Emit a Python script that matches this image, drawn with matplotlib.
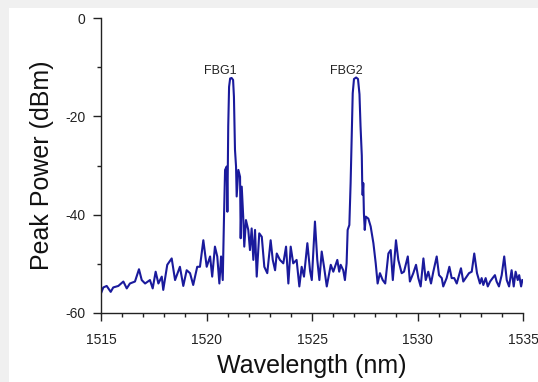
import matplotlib
matplotlib.use('Agg')
import matplotlib.pyplot as plt
from matplotlib.patches import Rectangle
from matplotlib.ticker import MultipleLocator

plt.rcParams['font.family'] = ['Liberation Sans', 'DejaVu Sans']
plt.rcParams['axes.unicode_minus'] = False

# Spectrum
wavelength = [
    1515.00, 1515.11, 1515.27, 1515.46, 1515.58, 1515.82, 1516.06, 1516.22, 1516.37, 1516.61,
    1516.80, 1516.93, 1517.09, 1517.32, 1517.45, 1517.59, 1517.72, 1517.88, 1517.95, 1518.14,
    1518.35, 1518.51, 1518.74, 1518.90, 1519.06, 1519.22, 1519.37, 1519.56, 1519.69, 1519.85,
    1520.01, 1520.17, 1520.27, 1520.40, 1520.51, 1520.61, 1520.69, 1520.77, 1520.83, 1520.88,
    1520.96, 1520.99, 1521.03, 1521.07, 1521.12, 1521.19, 1521.26, 1521.30, 1521.35, 1521.40,
    1521.43, 1521.51, 1521.59, 1521.62, 1521.67, 1521.74, 1521.79, 1521.87, 1521.98, 1522.06,
    1522.14, 1522.22, 1522.30, 1522.38, 1522.50, 1522.62, 1522.74, 1522.88, 1523.04, 1523.14,
    1523.25, 1523.33, 1523.48, 1523.64, 1523.77, 1523.88, 1523.99, 1524.11, 1524.27, 1524.40,
    1524.51, 1524.62, 1524.78, 1524.91, 1524.99, 1525.14, 1525.25, 1525.35, 1525.46, 1525.57,
    1525.70, 1525.89, 1526.01, 1526.20, 1526.29, 1526.36, 1526.48, 1526.56, 1526.64, 1526.69,
    1526.77, 1526.83, 1526.88, 1526.93, 1526.99, 1527.09, 1527.18, 1527.25, 1527.30, 1527.36,
    1527.38, 1527.40, 1527.43, 1527.46, 1527.50, 1527.55, 1527.67, 1527.78, 1527.91, 1528.02,
    1528.11, 1528.22, 1528.35, 1528.47, 1528.62, 1528.73, 1528.83, 1528.98, 1529.09, 1529.25,
    1529.36, 1529.54, 1529.64, 1529.80, 1529.93, 1530.04, 1530.15, 1530.28, 1530.39, 1530.51,
    1530.64, 1530.75, 1530.91, 1531.02, 1531.15, 1531.22, 1531.38, 1531.51, 1531.62, 1531.74,
    1531.86, 1531.93, 1532.06, 1532.17, 1532.33, 1532.44, 1532.57, 1532.69, 1532.82, 1532.96,
    1533.04, 1533.12, 1533.23, 1533.33, 1533.44, 1533.56, 1533.67, 1533.75, 1533.86, 1533.99,
    1534.11, 1534.23, 1534.34, 1534.46, 1534.56, 1534.65, 1534.75, 1534.82, 1534.91, 1534.97,
]
power = [
    -56.0, -54.8, -54.5, -55.7, -54.8, -54.5, -53.6, -55.0, -54.0, -53.6,
    -51.1, -53.3, -54.0, -53.3, -55.0, -51.6, -54.0, -52.6, -55.3, -50.2,
    -48.9, -53.3, -50.6, -54.5, -51.3, -51.9, -54.3, -50.6, -50.6, -45.2,
    -50.6, -48.5, -52.6, -46.5, -48.5, -54.0, -48.5, -53.3, -40.4, -30.9,
    -30.2, -39.4, -22.0, -14.0, -12.3, -12.2, -12.6, -16.0, -26.8, -30.2,
    -36.3, -30.9, -32.3, -44.8, -34.3, -40.4, -46.5, -41.1, -43.1, -47.2,
    -42.8, -49.2, -43.1, -52.6, -43.8, -44.5, -50.6, -51.9, -45.2, -49.2,
    -51.3, -47.9, -49.2, -49.9, -46.5, -54.0, -46.5, -49.9, -49.2, -54.6,
    -50.6, -52.6, -45.8, -51.5, -53.3, -41.4, -49.2, -53.3, -47.5, -50.6,
    -54.6, -50.2, -51.6, -49.2, -51.6, -50.2, -51.3, -53.3, -49.9, -43.1,
    -42.1, -33.6, -24.0, -15.3, -12.4, -12.1, -12.4, -15.5, -22.0, -28.0,
    -33.6, -36.0, -33.6, -39.7, -43.1, -40.4, -40.8, -42.4, -45.8, -49.9,
    -54.0, -51.9, -53.3, -54.0, -47.9, -47.2, -53.3, -45.2, -49.2, -51.9,
    -51.6, -48.5, -53.6, -51.9, -50.2, -52.9, -54.6, -48.9, -53.3, -51.6,
    -54.0, -51.6, -48.5, -52.3, -52.9, -54.6, -52.9, -50.6, -52.9, -52.9,
    -54.0, -52.9, -50.9, -53.6, -52.6, -51.9, -51.6, -47.9, -51.9, -54.0,
    -52.9, -54.3, -52.9, -54.6, -53.6, -52.9, -52.3, -53.6, -54.6, -52.3,
    -48.5, -53.3, -54.6, -51.3, -54.6, -51.6, -53.3, -52.3, -54.6, -53.3,
]
peak_labels = ['FBG1', 'FBG2']
peak_label_x = [1520.64, 1526.64]
peak_label_y = [-10.7, -10.7]

fig = plt.figure(figsize=(5.38, 3.82), dpi=100, facecolor='#f0f0f0')
fig.patches.append(Rectangle((9 / 538, 0), 1, 1 - 8 / 382, transform=fig.transFigure,
                             facecolor='white', edgecolor='none', zorder=-1))
ax = fig.add_axes([101 / 538, 1 - 313 / 382, 422 / 538, 295 / 382])
ax.patch.set_alpha(0)

ax.plot(wavelength, power, color='#1a1a9c', lw=1.5, solid_joinstyle='round')

for t, x, y in zip(peak_labels, peak_label_x, peak_label_y):
    ax.text(x, y, t, fontsize=9, ha='center', va='center', color='#222222')

ax.set_xlim(1515, 1535)
ax.set_ylim(-60, 0)
ax.xaxis.set_major_locator(MultipleLocator(5))
ax.xaxis.set_minor_locator(MultipleLocator(1))
ax.yaxis.set_major_locator(MultipleLocator(20))
ax.yaxis.set_minor_locator(MultipleLocator(10))

for s in ['top', 'right']:
    ax.spines[s].set_visible(False)
for s in ['left', 'bottom']:
    ax.spines[s].set_linewidth(1.0)
    ax.spines[s].set_color('#222222')

ax.tick_params(axis='y', which='major', length=6, width=1.0, pad=5, labelsize=10, colors='#222222')
ax.tick_params(axis='x', which='major', length=5.5, width=1.0, pad=9, labelsize=10, colors='#222222')
ax.tick_params(which='minor', length=3, width=1.0, colors='#222222')

ax.set_xlabel('Wavelength (nm)', fontsize=18, labelpad=5, color='#111111')
ax.set_ylabel('Peak Power (dBm)', fontsize=18, labelpad=8, color='#111111')

fig.savefig('out.png', dpi=100, facecolor=fig.get_facecolor())
